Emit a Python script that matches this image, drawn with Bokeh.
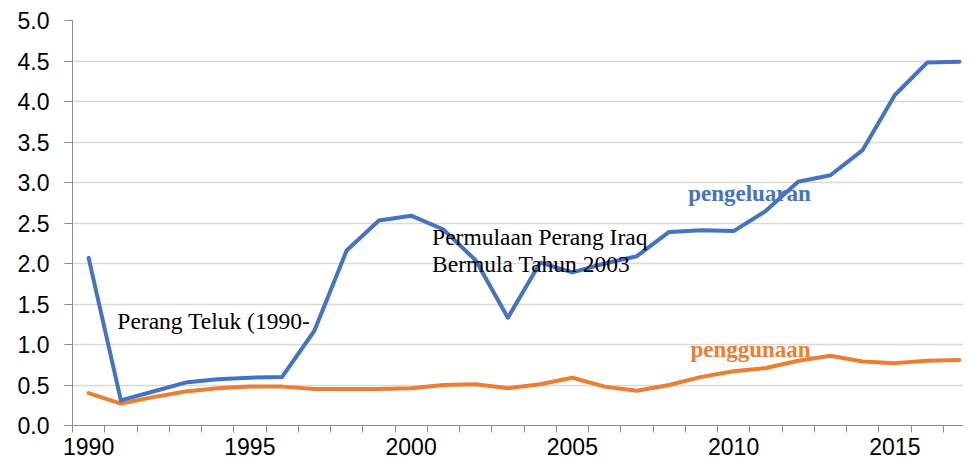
from bokeh.plotting import figure
from bokeh.models import Range1d, FixedTicker, CustomJSTickFormatter
from bokeh.core.properties import value
from bokeh.embed import file_html
from bokeh.resources import INLINE

years = list(range(1990, 2018))
pengeluaran = [2.07, 0.31, 0.42, 0.53, 0.57, 0.59, 0.60, 1.17, 2.16, 2.53,
               2.59, 2.42, 2.04, 1.33, 2.01, 1.89, 2.00, 2.09, 2.39, 2.41,
               2.40, 2.65, 3.01, 3.09, 3.40, 4.08, 4.48, 4.49]
penggunaan = [0.40, 0.27, 0.35, 0.42, 0.46, 0.48, 0.48, 0.45, 0.45, 0.45,
              0.46, 0.50, 0.51, 0.46, 0.51, 0.59, 0.48, 0.43, 0.50, 0.60,
              0.67, 0.71, 0.80, 0.86, 0.79, 0.77, 0.80, 0.81]
x_tick_labels = [1990, 1995, 2000, 2005, 2010, 2015]
y_ticks = [0.0, 0.5, 1.0, 1.5, 2.0, 2.5, 3.0, 3.5, 4.0, 4.5, 5.0]

BLUE = "#4472C4"
ORANGE = "#ED7D31"

frame_w = 891
px_per_year = 32.25

p = figure(frame_width=frame_w, frame_height=405,
           min_border_left=72, min_border_top=20, min_border_right=0,
           min_border_bottom=34,
           x_range=Range1d(years[0] - 0.5, years[0] - 0.5 + frame_w / px_per_year),
           y_range=Range1d(0, 5),
           output_backend="svg", toolbar_location=None)
p.outline_line_color = None
p.background_fill_color = "white"
p.border_fill_color = "white"

# x axis
boundaries = [y - 0.5 for y in years] + [years[-1] + 0.5]
p.xaxis.ticker = FixedTicker(ticks=x_tick_labels, minor_ticks=boundaries)
p.xaxis.major_tick_out = 0
p.xaxis.major_tick_in = 0
p.xaxis.minor_tick_out = 7
p.xaxis.minor_tick_in = 0
p.xaxis.minor_tick_line_color = "#8c8c8c"
p.xaxis.axis_line_color = "#8c8c8c"
p.xaxis.major_label_text_font = "Liberation Sans"
p.xaxis.major_label_text_font_size = "23px"
p.xaxis.major_label_text_color = "black"
p.xaxis.major_label_standoff = 5
p.xgrid.grid_line_color = None

# y axis
p.yaxis.ticker = FixedTicker(ticks=y_ticks)
p.yaxis.formatter = CustomJSTickFormatter(code="return tick.toFixed(1);")
p.yaxis.major_tick_out = 8
p.yaxis.major_tick_in = 0
p.yaxis.minor_tick_line_color = None
p.yaxis.major_tick_line_color = "#8c8c8c"
p.yaxis.axis_line_color = "#8c8c8c"
p.yaxis.major_label_text_font = "Liberation Sans"
p.yaxis.major_label_text_font_size = "23px"
p.yaxis.major_label_text_color = "black"
p.yaxis.major_label_standoff = 15
p.ygrid.ticker = FixedTicker(ticks=y_ticks)
p.ygrid.grid_line_color = "#d9d9d9"
p.ygrid.grid_line_width = 1.5

# series labels (behind lines)
p.text(x=[2008.59], y=[2.86], text=["pengeluaran"], text_color=BLUE,
       text_font=value("Liberation Serif"), text_font_style="bold",
       text_font_size="23px", text_baseline="alphabetic", text_align="left")
p.text(x=[2008.66], y=[0.94], text=["penggunaan"], text_color=ORANGE,
       text_font=value("Liberation Serif"), text_font_style="bold",
       text_font_size="23px", text_baseline="alphabetic", text_align="left")

p.line(years, penggunaan, line_color=ORANGE, line_width=4, line_join="round", line_cap="round")
p.line(years, pengeluaran, line_color=BLUE, line_width=4, line_join="round", line_cap="round")

# annotations
p.text(x=[1990.89], y=[1.29], text=["Perang Teluk (1990-"], text_color="black",
       text_font=value("Liberation Serif"), text_font_size="23.5px",
       text_baseline="alphabetic", text_align="left")
p.text(x=[2000.65, 2000.65], y=[2.333, 2.0],
       text=["Permulaan Perang Iraq", "Bermula Tahun 2003"], text_color="black",
       text_font=value("Liberation Serif"), text_font_size="23.5px",
       text_baseline="alphabetic", text_align="left")

open("out.html", "w").write(file_html(p, INLINE))
